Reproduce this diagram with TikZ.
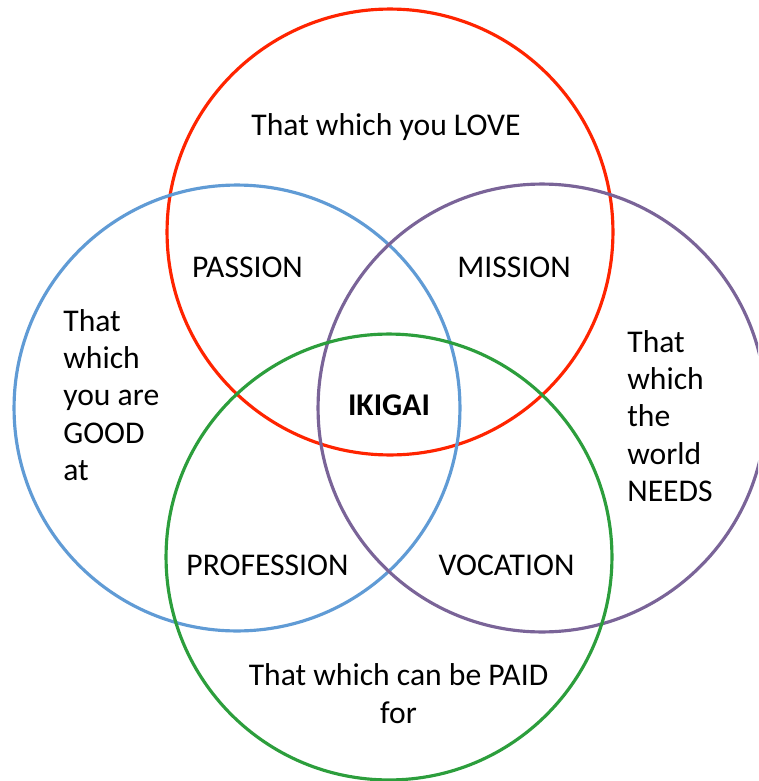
\documentclass[tikz,border=0pt]{standalone}
\usepackage{fontspec}
\setmainfont{Carlito}
\definecolor{lovered}{RGB}{255,36,0}
\definecolor{goodblue}{RGB}{96,155,213}
\definecolor{needpurple}{RGB}{122,100,152}
\definecolor{paidgreen}{RGB}{44,158,60}
\tikzset{ring/.style={line width=1.8pt},
  lbl/.style={font=\fontsize{18}{21.3}\selectfont, inner sep=0pt}}

\begin{document}
\begin{tikzpicture}[x=0.02cm, y=-0.02cm]
      \useasboundingbox (0,0) rectangle (758,781);
      \clip (0,0) rectangle (758,781);
      % circles
      \draw[ring, lovered] (390,232) circle (4.46cm);
      \draw[ring, goodblue] (237,408) circle (4.46cm);
      \draw[ring, needpurple] (542,408) circle (4.48cm);
      \draw[ring, paidgreen] (389,557) circle (4.46cm);
      % outer texts
      \node[lbl, anchor=base] (love) at (386,135) {That which you LOVE};
      \node[lbl, anchor=west, align=left] (good) at (63,395) {That\\which\\you are\\GOOD\\at};
      \node[lbl, anchor=west, align=left] (needs) at (627,416) {That\\which\\the\\world\\NEEDS};
      \node[lbl, align=center] (paid) at (398.5,693.5) {That which can be PAID\\for};
      % overlaps
      \node[lbl, anchor=base] (passion) at (247.5,277) {PASSION};
      \node[lbl, anchor=base] (mission) at (514,277) {MISSION};
      \node[lbl, anchor=base] (profession) at (267.5,575) {PROFESSION};
      \node[lbl, anchor=base] (vocation) at (506.5,575) {VOCATION};
      \node[lbl, anchor=base, font=\fontsize{18}{21.3}\selectfont\bfseries] (ikigai) at (389,415) {IKIGAI};
\end{tikzpicture}
\end{document}
